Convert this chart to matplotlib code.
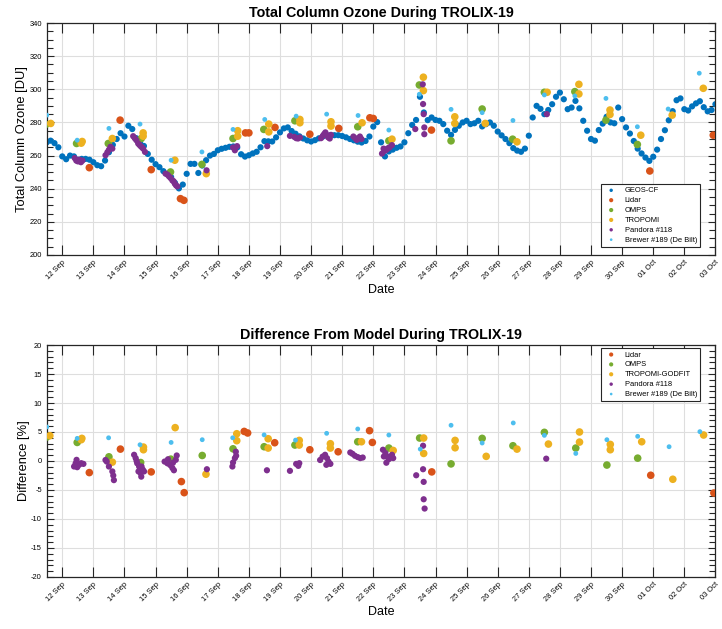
import numpy as np
import pandas as pd
import matplotlib
matplotlib.use('Agg')
import matplotlib.pyplot as plt
import matplotlib.dates as mdates
from matplotlib.ticker import MultipleLocator

plt.rcParams['font.family'] = ['Liberation Sans', 'DejaVu Sans']
plt.rcParams['axes.unicode_minus'] = False

t0 = pd.Timestamp('2019-09-12')

# GEOS-CF total column ozone [DU], 3-hourly starting 11 Sep 12:00
geos_start = pd.Timestamp('2019-09-11 12:00')
geos_o3 = [
    268, 269, 267.5, 265,                                   # 11 Sep
    259.5, 257.8, 260, 259.5, 257.5, 258, 258, 257.5,       # 12 Sep
    256, 254.2, 253.6, 257, 262, 266.5, 270, 273.5,         # 13 Sep
    271.5, 278, 276, 270.5, 267.8, 265.8, 261, 257.5,       # 14 Sep
    254.8, 253, 250.6, 249, 247, 243.5, 240.2, 242.5,       # 15 Sep
    249, 255, 255, 249.5, 254, 257.2, 260, 261,             # 16 Sep
    263.2, 264.1, 264.7, 265.3, 265.5, 264.9, 260.8, 259.4, # 17 Sep
    260.2, 261.3, 262.3, 265, 268.7, 268.6, 268.5, 271,     # 18 Sep
    274, 276.4, 277, 274.8, 273.2, 271.6, 270.3, 269.2,     # 19 Sep
    268.5, 269.3, 270.4, 271.5, 272.1, 272.3, 272.3, 272.3, # 20 Sep
    271.8, 271, 270, 269.2, 268.4, 267.9, 268.8, 271.5,     # 21 Sep
    277.5, 280.2, 268, 259.5, 262.5, 263.6, 264.7, 265.5,   # 22 Sep
    268, 273.5, 278.5, 281.5, 295.5, 286, 281.4, 283,       # 23 Sep
    281.5, 281, 279, 275, 272.5, 275.5, 278, 280,           # 24 Sep
    281, 279, 279.5, 281, 277.6, 279, 280, 278,             # 25 Sep
    274.5, 272.2, 270, 267.5, 264.5, 263, 262.3, 264.2,     # 26 Sep
    272, 283, 290, 288.2, 285, 287.5, 291, 295.5,           # 27 Sep
    298, 294, 288, 289, 293, 288.5, 281, 275,               # 28 Sep
    270, 269, 275.4, 279.3, 283.4, 280, 279.5, 289,         # 29 Sep
    282, 277, 273.3, 268.8, 264.2, 261.3, 258.8, 256.8,     # 30 Sep
    259.3, 263.6, 270, 275.3, 281.3, 286.8, 293.4, 294.5,   # 01 Oct
    288, 287.2, 289.7, 291.5, 292.8, 289.2, 286.7, 287.5,   # 02 Oct
    291,                                                    # 03 Oct
]

# observations: days since 12 Sep 00:00 and total column [DU]
lidar_day = [0.87, 1.86, 2.86, 3.80, 3.91, 5.89, 6.0, 6.84, 7.96, 8.89, 9.89, 10.0, 11.87, 18.89, 20.93]
lidar_o3 = [252.7, 281.4, 251.5, 234, 233, 273.7, 273.7, 277, 272.9, 276.4, 282.8, 282.4, 275.4, 250.7, 272.3]

omps_day = [-0.53, 0.46, 1.48, 2.54, 3.48, 4.49, 5.49, 6.48, 7.48, 9.50, 10.50, 11.48, 12.50,
            13.50, 14.48, 15.50, 16.48, 17.48, 18.49]
omps_o3 = [278.8, 267.3, 267.3, 270.3, 250.1, 254.7, 270.3, 275.8, 281, 277.4, 268.9, 302.6, 268.9,
           288.1, 269.9, 298.2, 298.6, 281.4, 266.7]

tropomi_day = [-0.37, 0.61, 0.64, 1.61, 2.60, 2.60, 3.62, 4.63, 5.64, 5.64, 6.64, 6.64, 7.64, 7.64,
               8.64, 8.64, 9.64, 10.60, 11.61, 11.61, 12.62, 12.62, 13.60, 14.62, 15.59, 16.61,
               16.61, 17.61, 17.61, 18.60, 19.61, 20.61]
tropomi_o3 = [279.4, 267.5, 268.5, 270.3, 273.7, 271.7, 257.2, 249.1, 275, 271.7, 279, 274.3, 281.8, 279.8,
              280.4, 277.8, 279.8, 269.9, 307.3, 299.2, 283.4, 279.4, 279.4, 268.3, 298.2, 303,
              297.2, 287.5, 284.8, 272.3, 284.4, 300.6]

pandora_day = [0.40, 0.45, 0.50, 0.55, 0.60, 0.65,
               1.39, 1.45, 1.50, 1.55, 1.61,
               2.28, 2.33, 2.38, 2.44, 2.48, 2.52, 2.56, 2.60, 2.66,
               3.32, 3.38, 3.43, 3.48, 3.54, 3.58, 3.62, 3.66, 3.70,
               4.64, 5.49, 5.55, 5.62, 6.59,
               7.32, 7.46, 7.52, 7.58, 7.64,
               8.32, 8.38, 8.42, 8.46, 8.50, 8.55, 8.60, 8.64,
               9.36, 9.42, 9.47, 9.52, 9.57, 9.62,
               10.28, 10.33, 10.36, 10.40, 10.43, 10.48, 10.52, 10.60,
               11.35, 11.59, 11.60, 11.62, 11.64, 11.64, 15.58]
pandora_o3 = [258.5, 257, 256.5, 257.5, 256, 257,
              260.2, 262, 263.5, 265.3, 264.2,
              271.7, 270.5, 269.3, 267.3, 266.5, 265.7, 265, 264.2, 262.2,
              249.1, 248.5, 247.5, 246.5, 245, 244.5, 243, 242, 241.4,
              251.1, 264.9, 263.2, 265.7, 265.7,
              271.9, 271.3, 270.5, 270.3, 270.9,
              270.5, 272, 273, 274, 272.5, 271, 270.3, 272.5,
              271.5, 270.5, 269.5, 270.3, 271.5, 270,
              261.2, 264.2, 262.8, 263.6, 263.6, 264.5, 264.9, 266.3,
              276, 303, 291.1, 285, 277, 272.9, 285]

brewer_day = [-0.50, 0.48, 1.50, 2.50, 3.50, 4.49, 5.49, 6.51, 7.52, 8.50, 9.51, 10.50, 11.48,
              12.50, 13.50, 14.49, 15.50, 16.48, 17.48, 18.49, 19.48, 20.48]
brewer_o3 = [284.4, 269.3, 276.4, 279, 257.2, 262.2, 275.8, 281.8, 283.8, 285, 284.2, 275.4, 297,
             287.9, 285.9, 281.2, 296.6, 296, 294.5, 277.4, 288.1, 309.7]

# differences from GEOS-CF [%]
lidar_dday = [0.87, 1.87, 2.86, 3.83, 3.92, 5.85, 5.96, 6.83, 7.96, 8.87, 9.88, 9.97, 11.88, 18.92, 20.95]
lidar_diff = [-2.0, 2.05, -1.88, -3.55, -5.46, 5.1, 4.83, 3.15, 1.94, 1.59, 5.23, 3.2, -1.88, -2.46, -5.52]

omps_dday = [-0.50, 0.48, 1.50, 2.52, 3.49, 4.50, 5.49, 6.49, 7.48, 9.50, 10.50, 11.49, 12.50,
             13.50, 14.49, 15.50, 16.51, 17.51, 18.50]
omps_diff = [4.13, 3.2, 0.72, -0.26, 0.32, 0.95, 2.1, 2.46, 2.75, 3.32, 2.23, 3.96, -0.5,
             3.9, 2.63, 4.94, 2.23, -0.7, 0.49]

tropomi_dday = [-0.40, 0.61, 0.63, 1.61, 2.61, 2.61, 3.63, 4.62, 5.61, 5.61, 6.62, 6.62, 7.62, 7.62,
                8.62, 8.62, 9.62, 10.64, 11.62, 11.62, 12.63, 12.63, 13.63, 14.62, 15.63, 16.63,
                16.63, 17.62, 17.62, 18.63, 19.63, 20.62]
tropomi_diff = [4.36, 3.67, 3.9, -0.2, 2.4, 1.94, 5.75, -2.28, 4.7, 3.5, 3.84, 2.23, 3.55, 2.75,
                2.98, 2.23, 3.32, 1.82, 3.96, 1.3, 3.55, 2.28, 0.8, 2.05, 2.92, 5.0,
                3.26, 2.86, 1.94, 3.32, -3.15, 4.48]

pandora_dday = [0.38, 0.43, 0.46, 0.48, 0.54, 0.61, 0.68,
                1.39, 1.43, 1.50, 1.61, 1.64, 1.66,
                2.31, 2.36, 2.39, 2.41, 2.45, 2.47, 2.50, 2.52, 2.54, 2.55, 2.59, 2.63,
                3.29, 3.38, 3.40, 3.47, 3.54, 3.56, 3.59, 3.65, 3.68,
                4.65, 5.47, 5.49, 5.55, 5.58, 5.59, 6.58,
                7.32, 7.52, 7.59, 7.62,
                8.29, 8.37, 8.45, 8.49, 8.51, 8.56, 8.62,
                9.26, 9.33, 9.41, 9.50, 9.58, 9.66,
                10.31, 10.34, 10.39, 10.42, 10.44, 10.50, 10.55, 10.60, 10.64,
                11.38, 11.60, 11.60, 11.62, 11.62, 11.65, 15.56]
pandora_diff = [-0.95, -0.4, 0.2, -1.07, -0.66, -0.38, -0.5,
                0.17, -0.1, -0.95, -1.8, -2.5, -3.3,
                1.07, 0.5, 0.0, -0.4, -1.8, -0.95, -1.5, -2.1, -2.7, -0.95, -1.5, -1.8,
                -0.1, -0.4, 0.3, -0.7, -1.2, -0.3, -1.6, 0.2, 0.95,
                -1.42, -0.95, -0.26, 0.5, 1.6, 0.9, -1.6,
                -1.7, -0.5, -0.84, -0.38,
                0.17, 0.75, 1.07, -0.66, 0.5, -0.1, -0.5,
                1.47, 1.24, 0.9, 0.67, 0.5, 0.6,
                1.94, 0.78, 1.36, -0.3, 0.78, 0.32, 0.6, 1.07, 0.5,
                -2.46, 2.63, -1.42, -3.6, -6.6, -8.2, 0.4]

brewer_dday = [-0.50, 0.48, 1.49, 2.50, 3.50, 4.50, 5.48, 6.49, 7.50, 8.50, 9.50, 10.50, 11.51,
               12.50, 13.50, 14.50, 15.50, 16.51, 17.51, 18.50, 19.51, 20.50]
brewer_diff = [5.87, 3.9, 4.0, 2.8, 3.2, 3.67, 4.0, 4.5, 3.6, 4.77, 5.52, 4.48, 2.05,
               6.16, 3.1, 6.56, 4.42, 1.3, 3.67, 4.25, 2.46, 5.06]

c_geos = '#0072BD'
c_lidar = '#D95319'
c_omps = '#77AC30'
c_tropomi = '#EDB120'
c_pandora = '#7E2F8E'
c_brewer = '#4DBEEE'


def to_time(days):
    return t0 + pd.to_timedelta(np.array(days), unit='D')


def style_axes(ax, major, minor):
    ax.set_xlim(t0 - pd.Timedelta(hours=12), t0 + pd.Timedelta(days=21))
    ax.xaxis.set_major_locator(mdates.DayLocator())
    ax.xaxis.set_major_formatter(mdates.DateFormatter('%d %b'))
    ax.yaxis.set_major_locator(MultipleLocator(major))
    ax.yaxis.set_minor_locator(MultipleLocator(minor))
    ax.tick_params(axis='both', which='both', direction='in', top=True, right=True,
                   color='#262626', labelsize=5.4, width=0.8)
    ax.tick_params(axis='x', which='major', length=7.5, pad=3)
    ax.tick_params(axis='y', which='major', length=5)
    ax.tick_params(axis='y', which='minor', length=4.5)
    for lab in ax.get_xticklabels():
        lab.set_rotation(45)
        lab.set_ha('right')
        lab.set_rotation_mode('anchor')
    ax.grid(True, which='major', color='#dedede', linewidth=0.8)
    ax.set_axisbelow(True)
    for s in ax.spines.values():
        s.set_color('#262626')
        s.set_linewidth(0.9)


fig = plt.figure(figsize=(7.22, 6.29), dpi=100)
ax1 = fig.add_axes([0.0647, 0.5946, 0.9262, 0.3688])
ax2 = fig.add_axes([0.0647, 0.0827, 0.9262, 0.3688])

# top panel: total column ozone
geos_time = pd.date_range(geos_start, periods=len(geos_o3), freq='3h')
ax1.scatter(geos_time, geos_o3, s=20, color=c_geos, edgecolors='none', label='GEOS-CF', zorder=2)
ax1.scatter(to_time(lidar_day), lidar_o3, s=30, color=c_lidar, edgecolors='none', label='Lidar', zorder=3)
ax1.scatter(to_time(omps_day), omps_o3, s=30, color=c_omps, edgecolors='none', label='OMPS', zorder=3)
ax1.scatter(to_time(tropomi_day), tropomi_o3, s=30, color=c_tropomi, edgecolors='none', label='TROPOMI', zorder=3)
ax1.scatter(to_time(pandora_day), pandora_o3, s=20, color=c_pandora, edgecolors='none', label='Pandora #118', zorder=3)
ax1.scatter(to_time(brewer_day), brewer_o3, s=12, color=c_brewer, edgecolors='none', label='Brewer #189 (De Bilt)', zorder=3)
ax1.set_ylim(200, 340)
style_axes(ax1, 20, 5)
ax1.set_title('Total Column Ozone During TROLIX-19', fontsize=10.3, fontweight='bold', pad=4)
ax1.set_xlabel('Date', fontsize=9, labelpad=2)
ax1.set_ylabel('Total Column Ozone [DU]', fontsize=9.3, labelpad=1)
leg1 = ax1.legend(loc='lower right', bbox_to_anchor=(0.977, 0.036), borderaxespad=0, fontsize=5.4,
                  markerscale=0.55, handletextpad=0.8, labelspacing=0.35, fancybox=False,
                  framealpha=1, borderpad=0.4)
leg1.get_frame().set_edgecolor('#262626')
leg1.get_frame().set_linewidth(0.8)

# bottom panel: percent difference from GEOS-CF
ax2.scatter(to_time(lidar_dday), lidar_diff, s=30, color=c_lidar, edgecolors='none', label='Lidar', zorder=3)
ax2.scatter(to_time(omps_dday), omps_diff, s=30, color=c_omps, edgecolors='none', label='OMPS', zorder=3)
ax2.scatter(to_time(tropomi_dday), tropomi_diff, s=30, color=c_tropomi, edgecolors='none', label='TROPOMI-GODFIT', zorder=3)
ax2.scatter(to_time(pandora_dday), pandora_diff, s=20, color=c_pandora, edgecolors='none', label='Pandora #118', zorder=3)
ax2.scatter(to_time(brewer_dday), brewer_diff, s=12, color=c_brewer, edgecolors='none', label='Brewer #189 (De Bilt)', zorder=3)
ax2.set_ylim(-20, 20)
style_axes(ax2, 5, 1)
ax2.set_title('Difference From Model During TROLIX-19', fontsize=10.3, fontweight='bold', pad=4)
ax2.set_xlabel('Date', fontsize=9, labelpad=2)
ax2.set_ylabel('Difference [%]', fontsize=9.3, labelpad=1)
leg2 = ax2.legend(loc='upper right', bbox_to_anchor=(0.977, 0.986), borderaxespad=0, fontsize=5.4,
                  markerscale=0.55, handletextpad=0.8, labelspacing=0.35, fancybox=False,
                  framealpha=1, borderpad=0.4)
leg2.get_frame().set_edgecolor('#262626')
leg2.get_frame().set_linewidth(0.8)

plt.savefig('out.png', dpi=100)
